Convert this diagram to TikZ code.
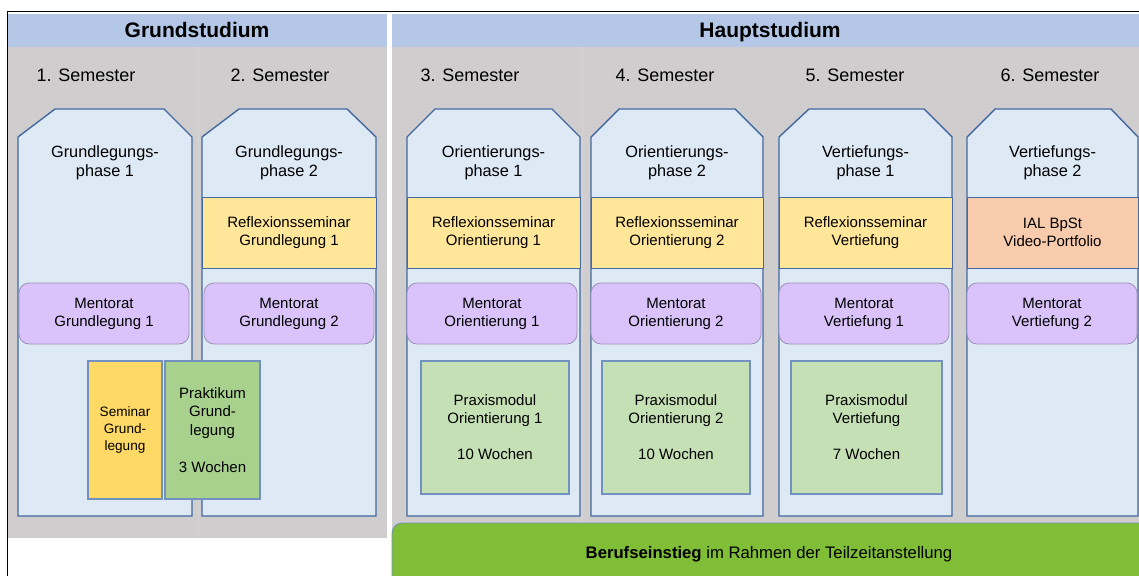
\documentclass[tikz,border=0pt]{standalone}
\usepackage{fontspec}
\setmainfont{Liberation Sans}
\usetikzlibrary{positioning}

\definecolor{headerblue}{HTML}{B4C7E7}
\definecolor{graybg}{HTML}{CFCDCE}
\definecolor{sepgray}{HTML}{D6D4D5}
\definecolor{phasefill}{HTML}{DEE9F6}
\definecolor{phaseline}{HTML}{4468A0}
\definecolor{reflexfill}{HTML}{FFE699}
\definecolor{ialfill}{HTML}{F8CBAD}
\definecolor{mentoratfill}{HTML}{DAC3FA}
\definecolor{mentoratline}{HTML}{9C92B5}
\definecolor{praxisfill}{HTML}{C5E0B4}
\definecolor{praxisline}{HTML}{7391C0}
\definecolor{seminarfill}{HTML}{FFD966}
\definecolor{praktikumfill}{HTML}{A9D18E}
\definecolor{berufgreen}{HTML}{80BE37}

\tikzset{
    every node/.style={align=center, inner sep=0pt},
    bandtitle/.style={font=\fontsize{21}{24}\selectfont\bfseries, anchor=base},
    semtitle/.style={font=\fontsize{18}{21}\selectfont, anchor=base},
    phasebox/.style={draw=phaseline, fill=phasefill, line width=1.4pt},
    phasetitle/.style={font=\fontsize{16.3}{18.5}\selectfont},
    reflexbox/.style={rectangle, draw=phaseline, fill=reflexfill, line width=1pt, minimum height=71pt, font=\fontsize{15}{18}\selectfont},
    mentoratbox/.style={rectangle, rounded corners=10pt, draw=mentoratline, fill=mentoratfill, line width=0.8pt, minimum width=170pt, minimum height=61pt, font=\fontsize{15}{18}\selectfont},
    praxisbox/.style={rectangle, draw=praxisline, fill=praxisfill, line width=1.1pt, minimum height=133pt, font=\fontsize{15}{18}\selectfont},
    smallbox/.style={rectangle, draw=praxisline, line width=1.1pt, minimum height=138pt}
}

\begin{document}
\begin{tikzpicture}[x=1pt, y=-1pt]
    \useasboundingbox (0,0) rectangle (1139,575);
    \clip (0,0) rectangle (1139,575);
    \fill[white] (0,0) rectangle (1139,575);

    % the two parts of the study
    \fill[headerblue] (8,14) rectangle (387,47);
    \fill[graybg] (8,47) rectangle (387,538);
    \fill[headerblue] (392,14) rectangle (1160,47);
    \fill[graybg] (392,47) rectangle (1160,560);
    \draw[sepgray, line width=1pt] (198,47) -- (198,538);
    \draw[sepgray, line width=1pt] (582,47) -- (582,560);
    \draw[black, line width=0.7pt] (7,11) rectangle (1160,600);

    \node[bandtitle] (grund) at (197,38) {Grundstudium};
    \node[bandtitle] (haupt) at (770,38) {Hauptstudium};

    \foreach \x [count=\i] in {86,280,470,665,855,1050}
        \node[semtitle] (sem\i) at (\x,82) {\i. Semester};

    % phase columns with cut top corners
    \foreach \l/\r/\cl/\cr in {18/192/37/28, 202/376/37/29, 407/580/28/28, 591/763/28/28, 779/952/30/28, 967/1138/28/27}
        \draw[phasebox] (\l,516) -- (\l,137) -- (\l+\cl,109) -- (\r-\cr,109) -- (\r,137) -- (\r,516) -- cycle;

    \node[phasetitle] (phase1) at (105,163) {Grundlegungs-\\phase 1};
    \node[phasetitle] (phase2) at (289,163) {Grundlegungs-\\phase 2};
    \node[phasetitle] (phase3) at (493.5,163) {Orientierungs-\\phase 1};
    \node[phasetitle] (phase4) at (677,163) {Orientierungs-\\phase 2};
    \node[phasetitle] (phase5) at (865.5,163) {Vertiefungs-\\phase 1};
    \node[phasetitle] (phase6) at (1052.5,163) {Vertiefungs-\\phase 2};

    % seminars
    \node[reflexbox, minimum width=174pt] (reflex2) at (289,232.5) {Reflexionsseminar\\Grundlegung 1};
    \node[reflexbox, minimum width=173pt] (reflex3) at (493.5,232.5) {Reflexionsseminar\\Orientierung 1};
    \node[reflexbox, minimum width=172pt] (reflex4) at (677,232.5) {Reflexionsseminar\\Orientierung 2};
    \node[reflexbox, minimum width=173pt] (reflex5) at (865.5,232.5) {Reflexionsseminar\\Vertiefung};
    \node[reflexbox, fill=ialfill, minimum width=171pt] (ial) at (1052.5,232.5) {IAL BpSt\\Video-Portfolio};

    % mentorat
    \node[mentoratbox] (ment1) at (104,313.5) {Mentorat\\Grundlegung 1};
    \node[mentoratbox] (ment2) at (289,313.5) {Mentorat\\Grundlegung 2};
    \node[mentoratbox] (ment3) at (492,313.5) {Mentorat\\Orientierung 1};
    \node[mentoratbox] (ment4) at (676,313.5) {Mentorat\\Orientierung 2};
    \node[mentoratbox] (ment5) at (864,313.5) {Mentorat\\Vertiefung 1};
    \node[mentoratbox] (ment6) at (1052,313.5) {Mentorat\\Vertiefung 2};

    % practical parts
    \node[smallbox, fill=seminarfill, minimum width=74pt, font=\fontsize{13.6}{17}\selectfont] (semgrund) at (125,430) {Seminar\\Grund-\\legung};
    \node[smallbox, fill=praktikumfill, minimum width=95pt, font=\fontsize{15}{18.5}\selectfont] (prakgrund) at (212.5,430) {Praktikum\\Grund-\\legung\\[18.5pt]3 Wochen};
    \node[praxisbox, minimum width=148pt] (praxis1) at (495,427.5) {Praxismodul\\Orientierung 1\\[18pt]10 Wochen};
    \node[praxisbox, minimum width=148pt] (praxis2) at (676,427.5) {Praxismodul\\Orientierung 2\\[18pt]10 Wochen};
    \node[praxisbox, minimum width=151pt] (praxis3) at (866.5,427.5) {Praxismodul\\Vertiefung\\[18pt]7 Wochen};

    % job entry
    \draw[draw=praxisline, fill=berufgreen, line width=0.8pt, rounded corners=10pt] (392,523) rectangle (1160,620);
    \node[anchor=base, font=\fontsize{16.7}{20}\selectfont] (beruf) at (769,558) {\textbf{Berufseinstieg} im Rahmen der Teilzeitanstellung};
\end{tikzpicture}
\end{document}
